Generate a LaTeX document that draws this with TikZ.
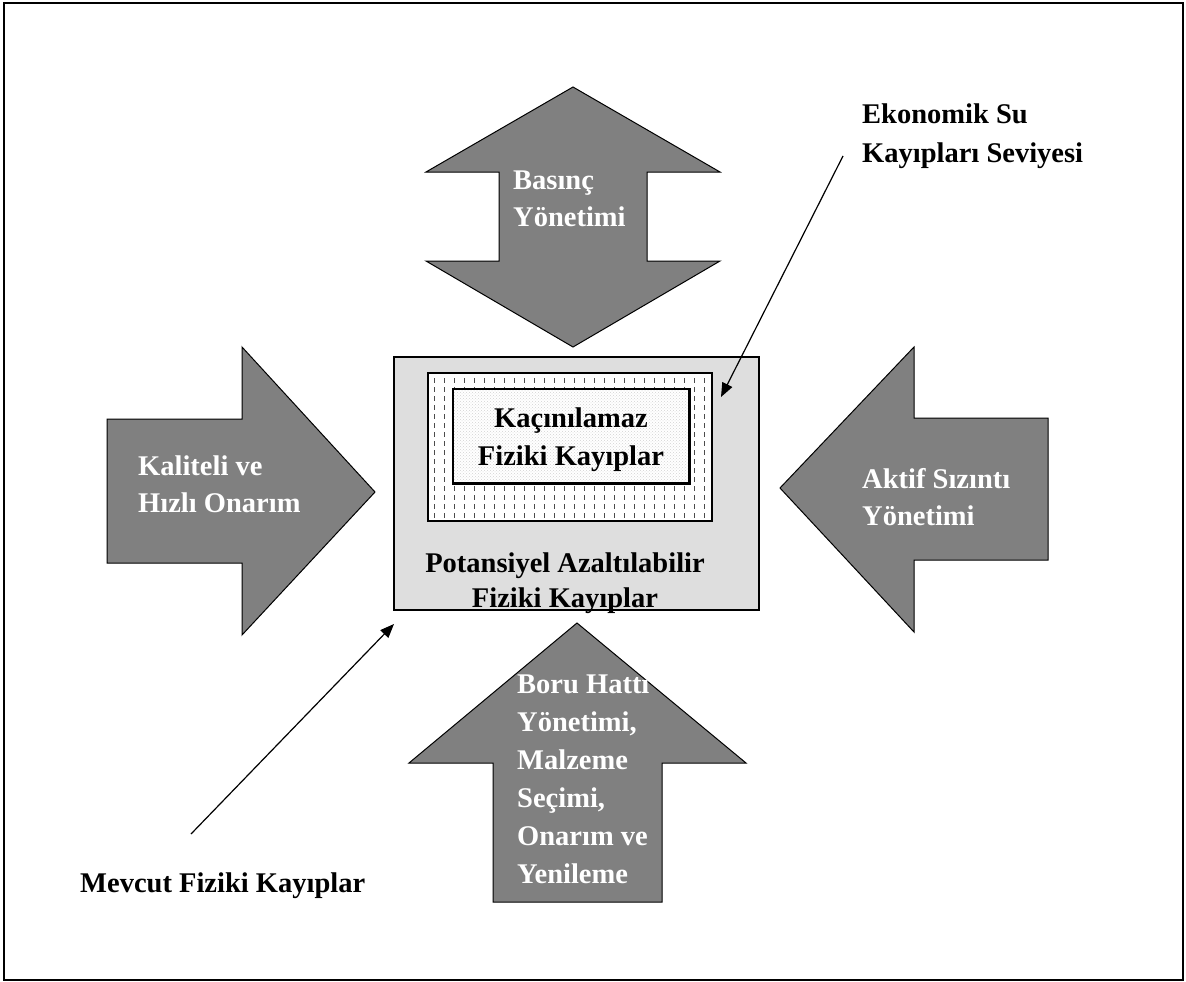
\documentclass[tikz,border=0pt]{standalone}
\usepackage{fontspec}
\setmainfont{Liberation Serif}
\usetikzlibrary{patterns,arrows.meta}

\definecolor{arrowgray}{RGB}{128,128,128}
\definecolor{boxgray}{RGB}{222,222,222}

\tikzset{
  blockarrow/.style={fill=arrowgray, draw=black, line width=1pt, line join=miter},
  arrowtext/.style={text=white, font=\bfseries\fontsize{28.5}{37}\selectfont,
                    align=left, anchor=base west, inner sep=0pt},
  plaintext/.style={text=black, font=\bfseries\fontsize{28.5}{38}\selectfont,
                    align=left, anchor=base west, inner sep=0pt},
  thinarrow/.style={-{Triangle[length=14pt,width=11pt]}, line width=1.2pt},
}

\begin{document}
\begin{tikzpicture}[x=1pt, y=-1pt]

    \useasboundingbox (0,0) rectangle (1186,982);
    \draw[line width=2pt] (4,3) rectangle (1183,980);

    % block arrows
    \draw[blockarrow] (573,87) -- (426,172) -- (499,172) -- (499,261) -- (426,261)
        -- (573,347) -- (720,261) -- (647,261) -- (647,172) -- (720,172) -- cycle;
    \draw[blockarrow] (107,419) -- (242,419) -- (242,347) -- (375,492)
        -- (242,635) -- (242,563) -- (107,563) -- cycle;
    \draw[blockarrow] (780,488) -- (914,347) -- (914,418) -- (1048,418)
        -- (1048,560) -- (914,560) -- (914,632) -- cycle;
    \draw[blockarrow] (577,623) -- (746,763) -- (662,763) -- (662,902)
        -- (493,902) -- (493,763) -- (409,763) -- cycle;

    % nested boxes
    \node[draw, line width=1.5pt, fill=boxgray, minimum width=365pt, minimum height=253pt,
          inner sep=0pt] (potential) at (576.5,483.5) {};
    \node[draw, line width=1pt, fill=white, minimum width=283pt, minimum height=147pt,
          inner sep=0pt] (economic) at (569.5,446.5) {};
    \begin{scope}
      \clip (428,373) rectangle (711,520);
      \foreach \x in {434,444,...,706}
        \draw[gray!60!black, line width=0.9pt, dash pattern=on 5pt off 4pt] (\x,378) -- (\x,518);
    \end{scope}
    \draw[line width=2pt] (economic.north west) rectangle (economic.south east);
    \node[draw, line width=1.5pt, preaction={fill=white},
          pattern=crosshatch dots, pattern color=gray!35, minimum width=236pt, minimum height=94pt,
          inner sep=0pt] (unavoidable) at (571,436) {};
    \draw[line width=1.5pt] (unavoidable.north west) rectangle (unavoidable.south east);

    % texts (base anchor sits on the last line)
    \node[plaintext, align=center, anchor=base] (unavoidtext) at (571,465)
        {Kaçınılamaz\\Fiziki Kayıplar};
    \node[plaintext, align=center, anchor=base, font=\bfseries\fontsize{28.5}{35}\selectfont]
        (pottext) at (565,607) {Potansiyel Azaltılabilir\\Fiziki Kayıplar};
    \node[arrowtext] (pressure) at (513,226) {Basınç\\Yönetimi};
    \node[arrowtext] (repair) at (138,512) {Kaliteli ve\\Hızlı Onarım};
    \node[arrowtext] (leak) at (862,525) {Aktif Sızıntı\\Yönetimi};
    \node[arrowtext, font=\bfseries\fontsize{28.5}{38}\selectfont] (pipe) at (517,883)
        {Boru Hattı\\Yönetimi,\\Malzeme\\Seçimi,\\Onarım ve\\Yenileme};
    \node[plaintext, font=\bfseries\fontsize{28.5}{39}\selectfont] (eklabel) at (862,162)
        {Ekonomik Su\\Kayıpları Seviyesi};
    \node[plaintext] (curlabel) at (80,892) {Mevcut Fiziki Kayıplar};

    % pointers
    \coordinate (ekstart) at (843,156);
    \coordinate (ektip) at (721,397);
    \coordinate (curstart) at (191,834);
    \coordinate (curtip) at (394,624);
    \draw[thinarrow] (ekstart) -- (ektip);
    \draw[thinarrow] (curstart) -- (curtip);

\end{tikzpicture}
\end{document}
